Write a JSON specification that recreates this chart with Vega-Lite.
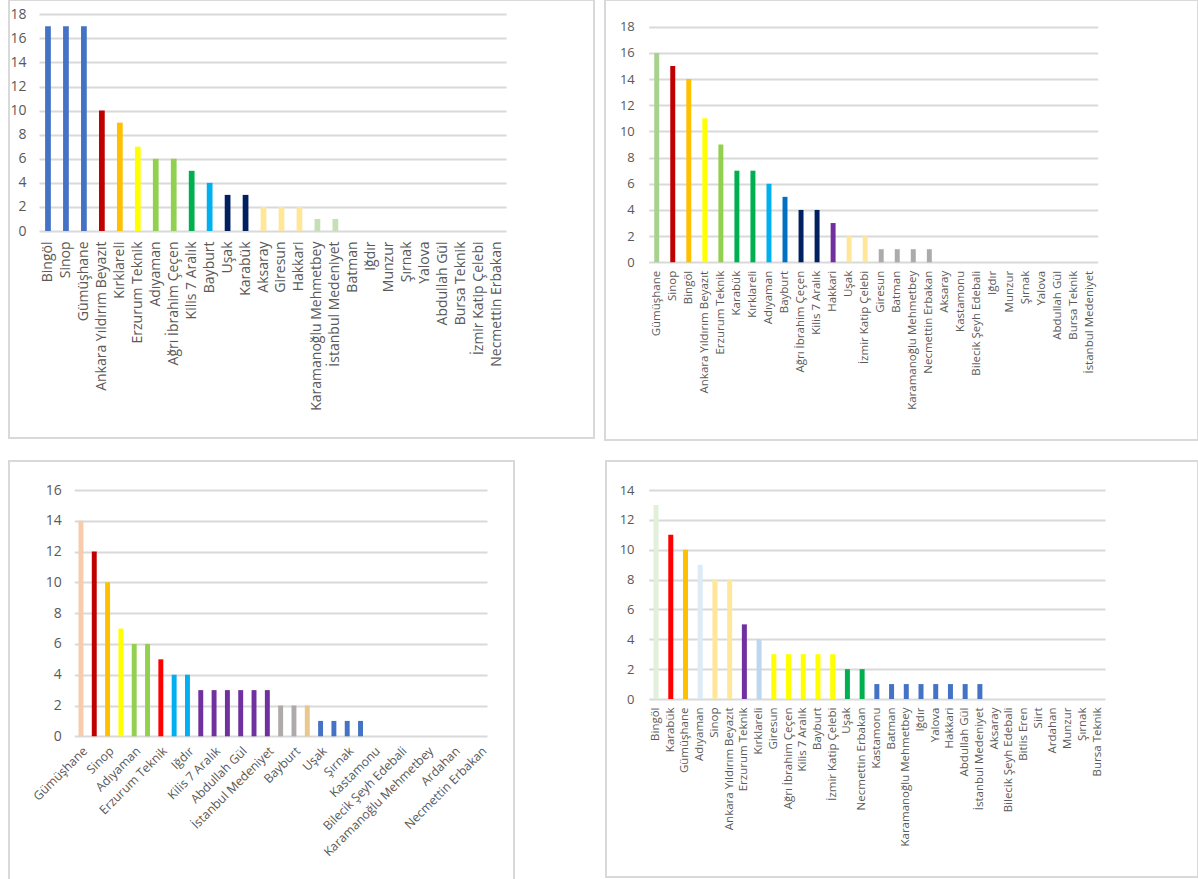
{
  "$schema": "https://vega.github.io/schema/vega-lite/v6.json",
  "padding": {"left": 8, "top": -1, "right": 0, "bottom": 0},
  "background": "white",
  "config": {
    "view": {"stroke": "#d9d9d9", "strokeWidth": 2},
    "axis": {"labelFont": "Open Sans", "labelColor": "#595959", "title": null, "grid": false, "domain": false},
    "bar": {"clip": false}
  },
  "spacing": 19,
  "resolve": {"scale": {"color": "independent", "x": "independent", "y": "independent"}},
  "vconcat": [
    {
      "bounds": "flush",
      "spacing": 11,
      "resolve": {"scale": {"color": "independent", "x": "independent", "y": "independent"}},
      "hconcat": [
        {
          "width": 585, "height": 438,
          "data": {"values": [
            {"university": "Bingöl", "count": 17},
            {"university": "Sinop", "count": 17},
            {"university": "Gümüşhane", "count": 17},
            {"university": "Ankara Yıldırım Beyazıt", "count": 10},
            {"university": "Kırklareli", "count": 9},
            {"university": "Erzurum Teknik", "count": 7},
            {"university": "Adıyaman", "count": 6},
            {"university": "Ağrı İbrahim Çeçen", "count": 6},
            {"university": "Kilis 7 Aralık", "count": 5},
            {"university": "Bayburt", "count": 4},
            {"university": "Uşak", "count": 3},
            {"university": "Karabük", "count": 3},
            {"university": "Aksaray", "count": 2},
            {"university": "Giresun", "count": 2},
            {"university": "Hakkari", "count": 2},
            {"university": "Karamanoğlu Mehmetbey", "count": 1},
            {"university": "İstanbul Medeniyet", "count": 1},
            {"university": "Batman", "count": 0},
            {"university": "Iğdır", "count": 0},
            {"university": "Munzur", "count": 0},
            {"university": "Şırnak", "count": 0},
            {"university": "Yalova", "count": 0},
            {"university": "Abdullah Gül", "count": 0},
            {"university": "Bursa Teknik", "count": 0},
            {"university": "İzmir Katip Çelebi", "count": 0},
            {"university": "Necmettin Erbakan", "count": 0}
          ]},
          "mark": {"type": "bar"},
          "encoding": {
            "x": {"field": "university", "type": "nominal", "sort": null,
              "scale": {"range": [30, 497], "paddingInner": 0.68, "paddingOuter": 0.34},
              "axis": {"labelAngle": -90, "ticks": false, "offset": -207, "labelPadding": 10, "labelFontSize": 14}},
            "y": {"field": "count", "type": "quantitative",
              "scale": {"domain": [0, 18], "range": [231, 14.3], "nice": false, "zero": true},
              "axis": {"values": [0, 2, 4, 6, 8, 10, 12, 14, 16, 18], "offset": -497, "tickSize": 467, "tickColor": "#d9d9d9", "tickWidth": 2, "labelPadding": 13, "labelFontSize": 14}},
            "color": {"field": "university", "type": "nominal", "legend": null,
              "scale": {"domain": ["Bingöl", "Sinop", "Gümüşhane", "Ankara Yıldırım Beyazıt", "Kırklareli", "Erzurum Teknik", "Adıyaman", "Ağrı İbrahim Çeçen", "Kilis 7 Aralık", "Bayburt", "Uşak", "Karabük", "Aksaray", "Giresun", "Hakkari", "Karamanoğlu Mehmetbey", "İstanbul Medeniyet"],
                "range": ["#4472C4", "#4472C4", "#4472C4", "#C00000", "#FFC000", "#FFFF00", "#92D050", "#92D050", "#00B050", "#00B0F0", "#002060", "#002060", "#FFE699", "#FFE699", "#FFE699", "#C5E0B4", "#C5E0B4"]}}
          }
        },
        {
          "width": 593, "height": 440,
          "data": {"values": [
            {"university": "Gümüşhane", "count": 16},
            {"university": "Sinop", "count": 15},
            {"university": "Bingöl", "count": 14},
            {"university": "Ankara Yıldırım Beyazıt", "count": 11},
            {"university": "Erzurum Teknik", "count": 9},
            {"university": "Karabük", "count": 7},
            {"university": "Kırklareli", "count": 7},
            {"university": "Adıyaman", "count": 6},
            {"university": "Bayburt", "count": 5},
            {"university": "Ağrı İbrahim Çeçen", "count": 4},
            {"university": "Kilis 7 Aralık", "count": 4},
            {"university": "Hakkari", "count": 3},
            {"university": "Uşak", "count": 2},
            {"university": "İzmir Katip Çelebi", "count": 2},
            {"university": "Giresun", "count": 1},
            {"university": "Batman", "count": 1},
            {"university": "Karamanoğlu Mehmetbey", "count": 1},
            {"university": "Necmettin Erbakan", "count": 1},
            {"university": "Aksaray", "count": 0},
            {"university": "Kastamonu", "count": 0},
            {"university": "Bilecik Şeyh Edebali", "count": 0},
            {"university": "Iğdır", "count": 0},
            {"university": "Munzur", "count": 0},
            {"university": "Şırnak", "count": 0},
            {"university": "Yalova", "count": 0},
            {"university": "Abdullah Gül", "count": 0},
            {"university": "Bursa Teknik", "count": 0},
            {"university": "İstanbul Medeniyet", "count": 0}
          ]},
          "mark": {"type": "bar"},
          "encoding": {
            "x": {"field": "university", "type": "nominal", "sort": null,
              "scale": {"range": [43.7, 492.7], "paddingInner": 0.69, "paddingOuter": 0.345},
              "axis": {"labelAngle": -90, "ticks": false, "offset": -177.7, "labelPadding": 8, "labelFontSize": 11.5}},
            "y": {"field": "count", "type": "quantitative",
              "scale": {"domain": [0, 18], "range": [262.3, 26.7], "nice": false, "zero": true},
              "axis": {"values": [0, 2, 4, 6, 8, 10, 12, 14, 16, 18], "offset": -492.7, "tickSize": 449, "tickColor": "#d9d9d9", "tickWidth": 2, "labelPadding": 14.4, "labelFontSize": 13}},
            "color": {"field": "university", "type": "nominal", "legend": null,
              "scale": {"domain": ["Gümüşhane", "Sinop", "Bingöl", "Ankara Yıldırım Beyazıt", "Erzurum Teknik", "Karabük", "Kırklareli", "Adıyaman", "Bayburt", "Ağrı İbrahim Çeçen", "Kilis 7 Aralık", "Hakkari", "Uşak", "İzmir Katip Çelebi", "Giresun", "Batman", "Karamanoğlu Mehmetbey", "Necmettin Erbakan"],
                "range": ["#A9D18E", "#C00000", "#FFC000", "#FFFF00", "#92D050", "#00B050", "#00B050", "#00B0F0", "#0070C0", "#002060", "#002060", "#7030A0", "#FFE699", "#FFE699", "#AEAAAA", "#AEAAAA", "#AEAAAA", "#AEAAAA"]}}
          }
        }
      ]
    },
    {
      "bounds": "flush",
      "spacing": 92,
      "resolve": {"scale": {"color": "independent", "x": "independent", "y": "independent"}},
      "hconcat": [
        {
          "width": 505, "height": 420,
          "data": {"values": [
            {"university": "Gümüşhane", "count": 14},
            {"university": "Bingöl", "count": 12},
            {"university": "Sinop", "count": 10},
            {"university": "Ankara Yıldırım Beyazıt", "count": 7},
            {"university": "Adıyaman", "count": 6},
            {"university": "Kırklareli", "count": 6},
            {"university": "Erzurum Teknik", "count": 5},
            {"university": "Karabük", "count": 4},
            {"university": "Iğdır", "count": 4},
            {"university": "Ağrı İbrahim Çeçen", "count": 3},
            {"university": "Kilis 7 Aralık", "count": 3},
            {"university": "Hakkari", "count": 3},
            {"university": "Abdullah Gül", "count": 3},
            {"university": "Bursa Teknik", "count": 3},
            {"university": "İstanbul Medeniyet", "count": 3},
            {"university": "Giresun", "count": 2},
            {"university": "Bayburt", "count": 2},
            {"university": "İzmir Katip Çelebi", "count": 2},
            {"university": "Uşak", "count": 1},
            {"university": "Yalova", "count": 1},
            {"university": "Şırnak", "count": 1},
            {"university": "Munzur", "count": 1},
            {"university": "Kastamonu", "count": 0},
            {"university": "Aksaray", "count": 0},
            {"university": "Bilecik Şeyh Edebali", "count": 0},
            {"university": "Batman", "count": 0},
            {"university": "Karamanoğlu Mehmetbey", "count": 0},
            {"university": "Bitlis Eren", "count": 0},
            {"university": "Ardahan", "count": 0},
            {"university": "Siirt", "count": 0},
            {"university": "Necmettin Erbakan", "count": 0}
          ]},
          "mark": {"type": "bar"},
          "encoding": {
            "x": {"field": "university", "type": "nominal", "sort": null,
              "scale": {"range": [65.3, 478], "paddingInner": 0.63, "paddingOuter": 0.315},
              "axis": {"labelAngle": -45, "ticks": false, "offset": -144.7, "labelPadding": 8, "labelFontSize": 12.3,
                "labelExpr": "round(datum.index * 30) % 2 == 0 ? datum.label : ''"}},
            "y": {"field": "count", "type": "quantitative",
              "scale": {"domain": [0, 16], "range": [275.3, 29], "nice": false, "zero": true},
              "axis": {"values": [0, 2, 4, 6, 8, 10, 12, 14, 16], "offset": -478, "tickSize": 412.7, "tickColor": "#d9d9d9", "tickWidth": 2, "labelPadding": 13, "labelFontSize": 14}},
            "color": {"field": "university", "type": "nominal", "legend": null,
              "scale": {"domain": ["Gümüşhane", "Bingöl", "Sinop", "Ankara Yıldırım Beyazıt", "Adıyaman", "Kırklareli", "Erzurum Teknik", "Karabük", "Iğdır", "Ağrı İbrahim Çeçen", "Kilis 7 Aralık", "Hakkari", "Abdullah Gül", "Bursa Teknik", "İstanbul Medeniyet", "Giresun", "Bayburt", "İzmir Katip Çelebi", "Uşak", "Yalova", "Şırnak", "Munzur"],
                "range": ["#F8CBAD", "#C00000", "#FFC000", "#FFFF00", "#92D050", "#92D050", "#FF0000", "#00B0F0", "#00B0F0", "#7030A0", "#7030A0", "#7030A0", "#7030A0", "#7030A0", "#7030A0", "#AEAAAA", "#AEAAAA", "#E8C88C", "#4472C4", "#4472C4", "#4472C4", "#4472C4"]}}
          }
        },
        {
          "width": 592, "height": 416,
          "data": {"values": [
            {"university": "Bingöl", "count": 13},
            {"university": "Karabük", "count": 11},
            {"university": "Gümüşhane", "count": 10},
            {"university": "Adıyaman", "count": 9},
            {"university": "Sinop", "count": 8},
            {"university": "Ankara Yıldırım Beyazıt", "count": 8},
            {"university": "Erzurum Teknik", "count": 5},
            {"university": "Kırklareli", "count": 4},
            {"university": "Giresun", "count": 3},
            {"university": "Ağrı İbrahim Çeçen", "count": 3},
            {"university": "Kilis 7 Aralık", "count": 3},
            {"university": "Bayburt", "count": 3},
            {"university": "İzmir Katip Çelebi", "count": 3},
            {"university": "Uşak", "count": 2},
            {"university": "Necmettin Erbakan", "count": 2},
            {"university": "Kastamonu", "count": 1},
            {"university": "Batman", "count": 1},
            {"university": "Karamanoğlu Mehmetbey", "count": 1},
            {"university": "Iğdır", "count": 1},
            {"university": "Yalova", "count": 1},
            {"university": "Hakkari", "count": 1},
            {"university": "Abdullah Gül", "count": 1},
            {"university": "İstanbul Medeniyet", "count": 1},
            {"university": "Aksaray", "count": 0},
            {"university": "Bilecik Şeyh Edebali", "count": 0},
            {"university": "Bitlis Eren", "count": 0},
            {"university": "Siirt", "count": 0},
            {"university": "Ardahan", "count": 0},
            {"university": "Munzur", "count": 0},
            {"university": "Şırnak", "count": 0},
            {"university": "Bursa Teknik", "count": 0}
          ]},
          "mark": {"type": "bar"},
          "encoding": {
            "x": {"field": "university", "type": "nominal", "sort": null,
              "scale": {"range": [42.7, 499], "paddingInner": 0.66, "paddingOuter": 0.33},
              "axis": {"labelAngle": -90, "ticks": false, "offset": -178, "labelPadding": 8, "labelFontSize": 11.5}},
            "y": {"field": "count", "type": "quantitative",
              "scale": {"domain": [0, 14], "range": [238, 29], "nice": false, "zero": true},
              "axis": {"values": [0, 2, 4, 6, 8, 10, 12, 14], "offset": -499, "tickSize": 456.3, "tickColor": "#d9d9d9", "tickWidth": 2, "labelPadding": 14.7, "labelFontSize": 13}},
            "color": {"field": "university", "type": "nominal", "legend": null,
              "scale": {"domain": ["Bingöl", "Karabük", "Gümüşhane", "Adıyaman", "Sinop", "Ankara Yıldırım Beyazıt", "Erzurum Teknik", "Kırklareli", "Giresun", "Ağrı İbrahim Çeçen", "Kilis 7 Aralık", "Bayburt", "İzmir Katip Çelebi", "Uşak", "Necmettin Erbakan", "Kastamonu", "Batman", "Karamanoğlu Mehmetbey", "Iğdır", "Yalova", "Hakkari", "Abdullah Gül", "İstanbul Medeniyet"],
                "range": ["#E2EFDA", "#FF0000", "#FFC000", "#DDEBF7", "#FFE699", "#FFE699", "#7030A0", "#BDD7EE", "#FFFF00", "#FFFF00", "#FFFF00", "#FFFF00", "#FFFF00", "#00B050", "#00B050", "#4472C4", "#4472C4", "#4472C4", "#4472C4", "#4472C4", "#4472C4", "#4472C4", "#4472C4"]}}
          }
        }
      ]
    }
  ]
}
